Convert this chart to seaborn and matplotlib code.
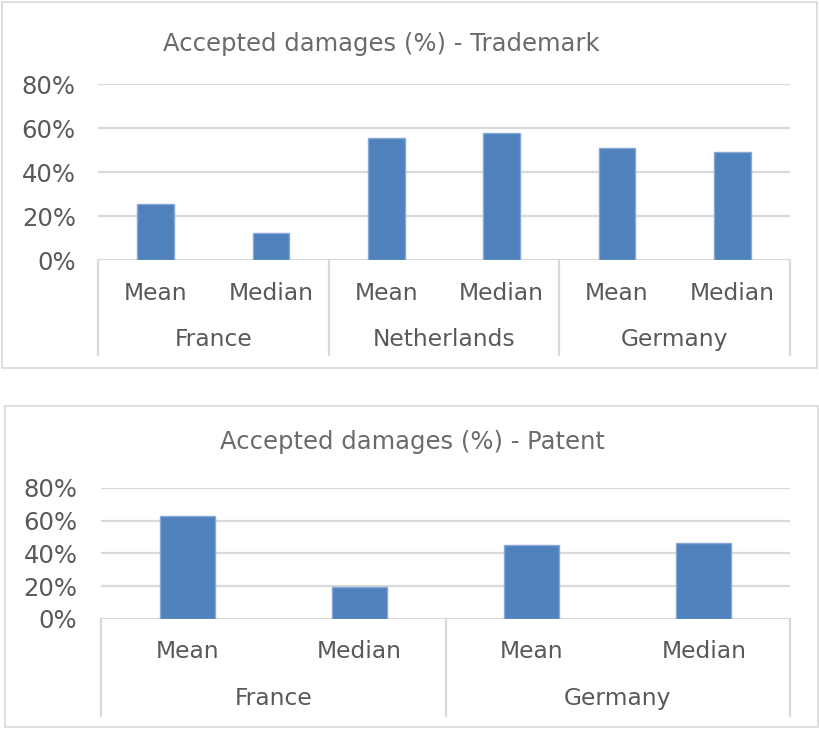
import pandas as pd
import matplotlib
matplotlib.use("Agg")
import matplotlib.pyplot as plt
import matplotlib.transforms as mtransforms
from matplotlib.patches import Rectangle
from matplotlib.ticker import PercentFormatter
import seaborn as sns

# -----------------------------
# DATA
# -----------------------------
stats = ["Mean", "Median"]

tm_countries = ["France", "Netherlands", "Germany"]
tm_values = [0.255, 0.123, 0.555, 0.577, 0.509, 0.493]

pat_countries = ["France", "Germany"]
pat_values = [0.629, 0.197, 0.453, 0.465]

yticks = [0, 0.2, 0.4, 0.6, 0.8]

# -----------------------------
# STYLE
# -----------------------------
sns.set_theme(style="white")
plt.rcParams["font.family"] = ["DejaVu Sans"]

BAR = "#4f81bd"
EDGE = "#86a8d6"
GRID = "#d9d9d9"
TXT = "#595959"

W, H = 819, 729
fig = plt.figure(figsize=(W / 100, H / 100), dpi=100)


def px_axes(x0, y_top, x1, y_bot):
    return fig.add_axes([x0 / W, 1 - y_bot / H, (x1 - x0) / W, (y_bot - y_top) / H])


def panel_box(x0, y0, x1, y1):
    fig.patches.append(Rectangle((x0 / W, 1 - y1 / H), (x1 - x0) / W, (y1 - y0) / H,
                                 transform=fig.transFigure, fill=False,
                                 edgecolor="#d9d9d9", linewidth=1.2))


def draw_chart(ax, countries, values, title, title_xy, lab_y, grp_y, sep_y, ypad):
    keys = [f"{c} {s}" for c in countries for s in stats]
    df = pd.DataFrame({"key": keys, "value": values})
    sns.barplot(data=df, x="key", y="value", order=keys, color=BAR,
                edgecolor=EDGE, linewidth=1, width=0.32, saturation=1, ax=ax)

    ax.set_ylim(0, 0.8)
    ax.set_xlim(-0.5, len(keys) - 0.5)
    ax.set_yticks(yticks)
    ax.yaxis.set_major_formatter(PercentFormatter(1.0, decimals=0))
    ax.tick_params(axis="y", length=0, pad=ypad, labelsize=17.5, labelcolor=TXT)
    ax.set_xticks([])
    ax.set_xlabel("")
    ax.set_ylabel("")
    for s in ax.spines.values():
        s.set_visible(False)
    ax.set_axisbelow(True)
    for t in yticks:
        ax.axhline(t, color=GRID, linewidth=1.6, zorder=0)

    trans = mtransforms.blended_transform_factory(ax.transData, ax.transAxes)
    for i, k in enumerate(keys):
        ax.text(i, lab_y, k.split(" ")[1], transform=trans, ha="center", va="center",
                fontsize=16.8, color=TXT)
    for g, c in enumerate(countries):
        ax.text(2 * g + 0.5, grp_y, c, transform=trans, ha="center", va="center",
                fontsize=16.8, color=TXT)
    for b in range(len(countries) + 1):
        ax.plot([2 * b - 0.5, 2 * b - 0.5], [0, sep_y], transform=trans, color=GRID,
                linewidth=1.6, clip_on=False)

    fig.text(title_xy[0] / W, 1 - title_xy[1] / H, title, ha="center", va="center",
             fontsize=17.5, color="#6b6b6b")


# top panel: trademark
panel_box(2, 2, 817, 368)
ax1 = px_axes(98, 84, 790, 260)
draw_chart(ax1, tm_countries, tm_values, "Accepted damages (%) - Trademark",
           (381, 44), -0.1875, -0.4545, -0.54, 16)

# bottom panel: patent
panel_box(5, 406, 818, 727)
ax2 = px_axes(101, 487.7, 790, 619)
draw_chart(ax2, pat_countries, pat_values, "Accepted damages (%) - Patent",
           (412, 441.5), -0.251, -0.609, -0.739, 17)

fig.savefig("out.png", dpi=100)
